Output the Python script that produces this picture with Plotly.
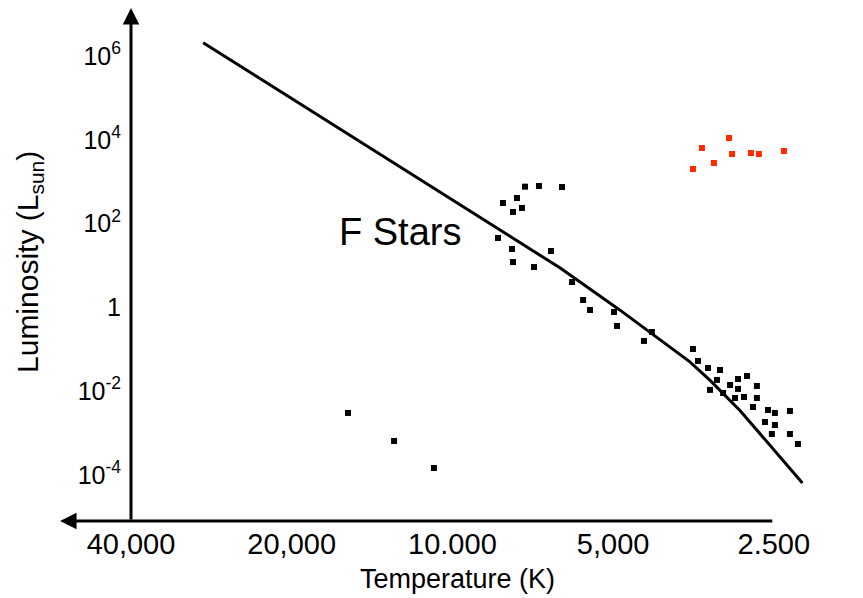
import numpy as np
import plotly.graph_objects as go

# Main-sequence track (temperature in K, luminosity in solar units)
ms_temp = [29300, 8880, 6280, 4860, 3590, 3290, 2890, 2210]
ms_lum = [2.1e6, 144, 8.7, 0.87, 0.050, 0.018, 0.0034, 6.4e-5]

# Observed stars (black)
star_temp = [7312, 6884, 6233, 8041, 7569, 7408, 7700, 8215, 7733, 6535,
             7700, 7033, 5691, 5523, 4916, 4377, 5968, 4980, 4229, 3543,
             3467, 3320, 3153, 2806, 2917, 3194, 3019, 2689, 3292, 2917,
             3111, 2955, 2843, 2689, 2735, 2563, 2488, 2332, 2597, 2488,
             2521, 2332, 2253, 15690, 12860, 10830]
star_lum = [764, 793, 751, 311, 410, 237, 190, 45.5, 24.8, 22.2,
            12.1, 9.2, 1.50, 0.867, 0.360, 0.158, 4.04, 0.777, 0.258, 0.1015,
            0.0525, 0.0357, 0.0320, 0.0230, 0.0195, 0.0185, 0.0140, 0.0133, 0.0107, 0.0113,
            0.00903, 0.00686, 0.00725, 0.00686, 0.00418, 0.00355, 0.00301, 0.00336, 0.00183, 0.00155,
            0.000947, 0.000947, 0.000547, 0.00301, 0.000645, 0.000146]

# Giants (red)
giant_temp = [3543, 3408, 3237, 3033, 2993, 2759, 2666, 2393]
giant_lum = [2020, 6410, 2810, 11100, 4610, 4870, 4610, 5440]

# Axis ticks
x_tick_vals = [40000, 20000, 10000, 5000, 2500]
x_tick_text = ["40,000", "20,000", "10.000", "5,000", "2.500"]
x_tick_marks = [5000, 2500]
y_tick_vals = [1e6, 1e4, 1e2, 1, 1e-2, 1e-4]
y_tick_text = ["10<sup>6</sup>", "10<sup>4</sup>", "10<sup>2</sup>", "1",
               "10<sup>-2</sup>", "10<sup>-4</sup>"]
y_tick_marks = [1e2, 1, 1e-2, 1e-4]

# Label position for the F-star group
fstar_temp = 16450
fstar_lum = 63

# Axis extents (log10 units)
x_range = [4.7538, 3.2683]
y_range = [-5.102, 7.222]
x_arrow_tip = 4.735
y_arrow_tip = 7.15
y_axis_temp = 40000

FONT = "Liberation Sans, Arial, sans-serif"

fig = go.Figure()
fig.add_trace(go.Scatter(x=ms_temp, y=ms_lum, mode="lines",
                         line=dict(color="black", width=3)))
fig.add_trace(go.Scatter(x=star_temp, y=star_lum, mode="markers",
                         marker=dict(symbol="square", size=6, color="black",
                                     line=dict(width=0))))
fig.add_trace(go.Scatter(x=giant_temp, y=giant_lum, mode="markers",
                         marker=dict(symbol="square", size=6, color="#ff2a00",
                                     line=dict(width=0))))

ya_pos = (np.log10(y_axis_temp) - x_range[0]) / (x_range[1] - x_range[0])

fig.update_layout(
    width=863, height=598, autosize=False,
    margin=dict(l=50, r=20, t=5, b=77),
    paper_bgcolor="white", plot_bgcolor="white",
    showlegend=False,
    font=dict(family=FONT, color="black"),
    xaxis=dict(type="log", range=x_range, autorange=False,
               tickmode="array", tickvals=x_tick_vals, ticktext=x_tick_text,
               ticks="", showgrid=False, zeroline=False, showline=False,
               tickfont=dict(size=29, family=FONT), ticklabelstandoff=3),
    yaxis=dict(type="log", range=y_range, autorange=False,
               anchor="free", position=ya_pos,
               tickmode="array", tickvals=y_tick_vals, ticktext=y_tick_text,
               ticks="", showgrid=False, zeroline=False, showline=False,
               tickfont=dict(size=25, family=FONT), ticklabelstandoff=10),
)

# Axis lines with arrowheads
fig.add_annotation(x=x_arrow_tip, y=y_range[0], ax=np.log10(x_tick_marks[-1]), ay=y_range[0],
                   xref="x", yref="y", axref="x", ayref="y", text="",
                   showarrow=True, arrowhead=2, arrowsize=1.1, arrowwidth=3,
                   arrowcolor="black")
fig.add_annotation(x=np.log10(y_axis_temp), y=y_arrow_tip,
                   ax=np.log10(y_axis_temp), ay=y_range[0],
                   xref="x", yref="y", axref="x", ayref="y", text="",
                   showarrow=True, arrowhead=2, arrowsize=1.1, arrowwidth=3,
                   arrowcolor="black")

# Tick marks
for v in y_tick_marks:
    fig.add_shape(type="line", xref="x", yref="y", xsizemode="pixel",
                  xanchor=np.log10(y_axis_temp), x0=0, x1=20,
                  y0=np.log10(v), y1=np.log10(v),
                  line=dict(color="black", width=3))
for v in x_tick_marks:
    fig.add_shape(type="line", xref="x", yref="y", ysizemode="pixel",
                  yanchor=y_range[0], y0=0, y1=15,
                  x0=np.log10(v), x1=np.log10(v),
                  line=dict(color="black", width=3))

# Titles
fig.add_annotation(text="Temperature (K)", xref="paper", yref="paper",
                   x=0.5145, y=-0.1125, xanchor="center", yanchor="middle",
                   showarrow=False, font=dict(size=27, family=FONT))
fig.add_annotation(text="Luminosity (L<sub>sun</sub>)", xref="paper", yref="paper",
                   x=-0.0252, y=0.502, xanchor="center", yanchor="middle",
                   textangle=-90, showarrow=False, font=dict(size=30, family=FONT))

# F-star label
fig.add_annotation(text="F Stars", x=np.log10(fstar_temp), y=np.log10(fstar_lum),
                   xref="x", yref="y", xanchor="left", yanchor="middle",
                   showarrow=False, font=dict(size=38, family=FONT))

fig.write_html("out.html")
